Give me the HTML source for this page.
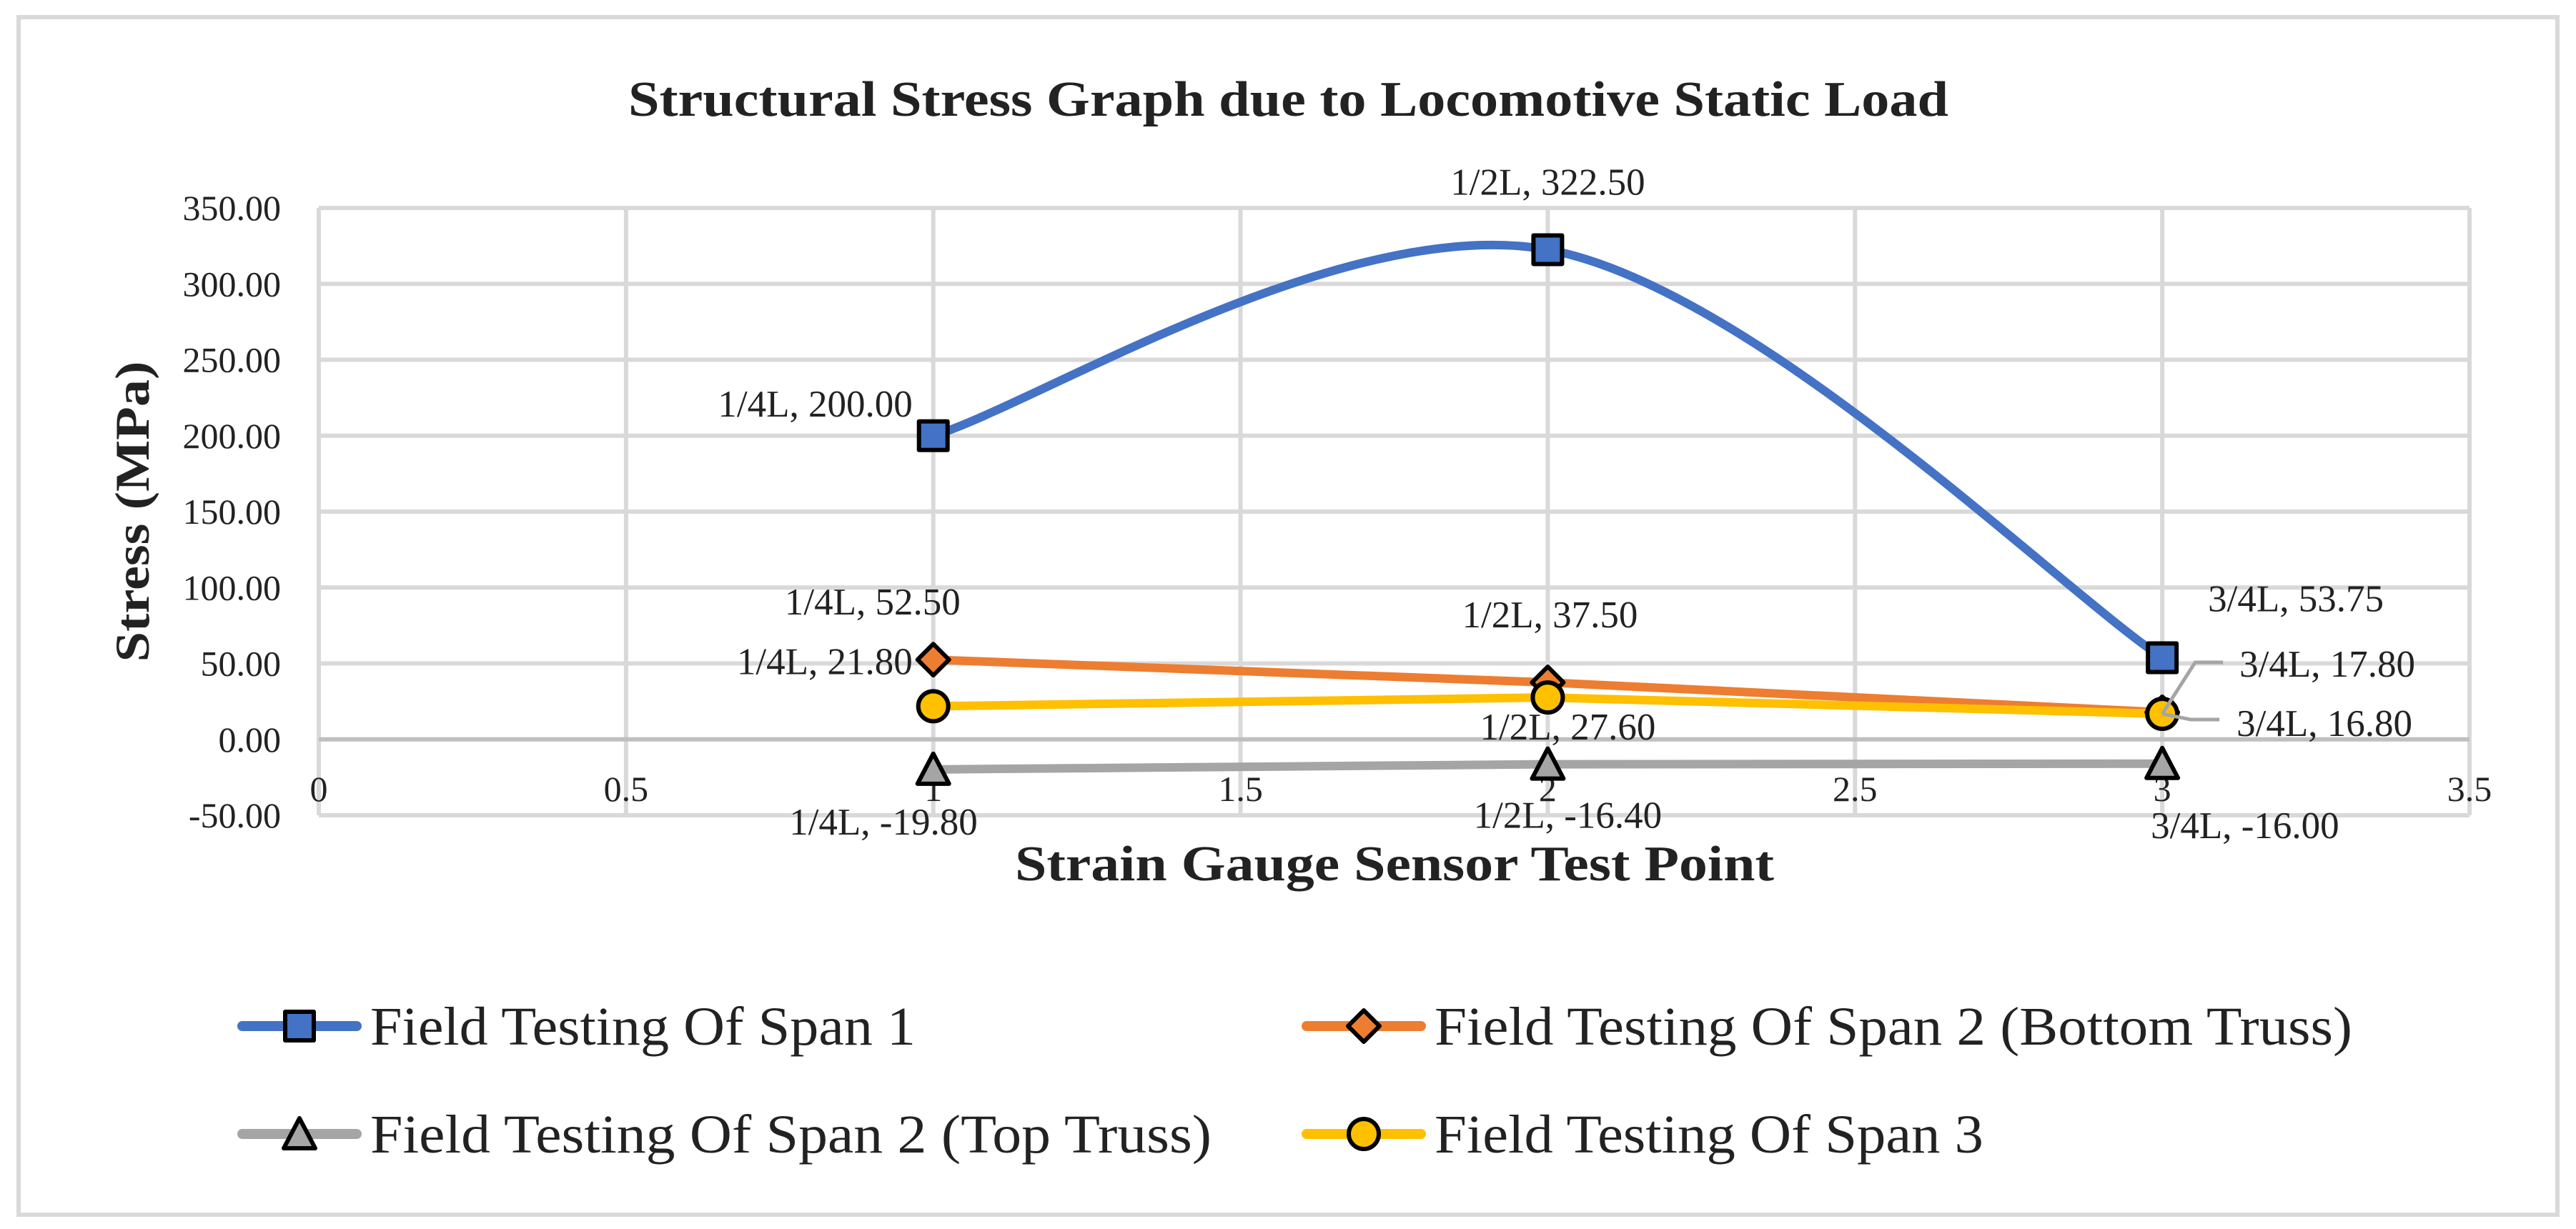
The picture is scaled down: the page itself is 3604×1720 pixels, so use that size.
<!DOCTYPE html>
<html><head><meta charset="utf-8"><style>
html,body{margin:0;padding:0;background:#fff;}
svg{display:block;font-family:"Liberation Serif",serif;}
</style></head><body>
<svg id="chart" width="3604" height="1720" viewBox="0 0 3604 1720" xmlns="http://www.w3.org/2000/svg">
<rect x="26" y="24" width="3552" height="1676" fill="#fff" stroke="#d9d9d9" stroke-width="6"/>
<text x="879" y="162" font-size="70" font-weight="bold" fill="#222" textLength="1847" lengthAdjust="spacingAndGlyphs">Structural Stress Graph due to Locomotive Static Load</text>
<g id="grid"></g>
<g id="yticks"></g>
<g id="xticks"></g>
<text transform="translate(208,716) rotate(-90)" text-anchor="middle" font-size="68" font-weight="bold" fill="#222" textLength="421" lengthAdjust="spacingAndGlyphs">Stress (MPa)</text>
<text x="1420" y="1232" font-size="70" font-weight="bold" fill="#222" textLength="1062" lengthAdjust="spacingAndGlyphs">Strain Gauge Sensor Test Point</text>
<g id="series"></g>
<g id="labels"></g>
<g id="legend"></g>
</svg>
<script>
const xValues = [1, 2, 3];
const span1 = [200.00, 322.50, 53.75];
const span2Bottom = [52.50, 37.50, 17.80];
const span2Top = [-19.80, -16.40, -16.00];
const span3 = [21.80, 27.60, 16.80];
const pointNames = ["1/4L", "1/2L", "3/4L"];
const yTicks = [-50, 0, 50, 100, 150, 200, 250, 300, 350];
const yTickLabels = ["-50.00","0.00","50.00","100.00","150.00","200.00","250.00","300.00","350.00"];
const xTicks = [0, 0.5, 1, 1.5, 2, 2.5, 3, 3.5];
const xTickLabels = ["0","0.5","1","1.5","2","2.5","3","3.5"];
const seriesNames = ["Field Testing Of Span 1","Field Testing Of Span 2 (Bottom Truss)","Field Testing Of Span 2 (Top Truss)","Field Testing Of Span 3"];

const NS = "http://www.w3.org/2000/svg";
const X0 = 446, X1 = 3455, Y0 = 1141, Y1 = 291;
const xs = v => X0 + (v - 0) / 3.5 * (X1 - X0);
const ys = v => Y0 - (v + 50) / 400 * (Y0 - Y1);
function mk(tag, attrs, parent, txt) {
  const e = document.createElementNS(NS, tag);
  for (const k in attrs) e.setAttribute(k, attrs[k]);
  if (txt !== undefined) e.textContent = txt;
  parent.appendChild(e);
  return e;
}
const grid = document.getElementById('grid');
xTicks.forEach((t) => {
  const l = mk('line', {x1: xs(t), x2: xs(t), y1: Y1, y2: Y0, stroke: '#d9d9d9', 'stroke-width': 6}, grid);
  
  
});
yTicks.forEach((t) => {
  const l = mk('line', {x1: X0, x2: X1, y1: ys(t), y2: ys(t), stroke: t === 0 ? '#bfbfbf' : '#d9d9d9', 'stroke-width': 6}, grid);
  
  
});
const yt = document.getElementById('yticks');
yTicks.forEach((t, i) => {
  const e = mk('text', {x: 393, y: ys(t) + 17, 'text-anchor': 'end', 'font-size': 50, fill: '#222'}, yt, yTickLabels[i]);
  
  
});
const xt = document.getElementById('xticks');
xTicks.forEach((t, i) => {
  const e = mk('text', {x: xs(t), y: 1121, 'text-anchor': 'middle', 'font-size': 50, fill: '#222'}, xt, xTickLabels[i]);
  
  
});

const colors = ['#4472C4', '#ED7D31', '#A5A5A5', '#FFC000'];
const shapes = ['square', 'diamond', 'triangle', 'circle'];
const allSeries = [span1, span2Bottom, span2Top, span3];

function marker(shape, cx, cy, color, parent) {
  let e;
  const s = 20;
  if (shape === 'square') e = mk('rect', {x: cx - s, y: cy - s, width: 2 * s, height: 2 * s}, parent);
  else if (shape === 'diamond') e = mk('polygon', {points: `${cx},${cy - 22} ${cx + 22},${cy} ${cx},${cy + 22} ${cx - 22},${cy}`}, parent);
  else if (shape === 'triangle') e = mk('polygon', {points: `${cx},${cy - 22} ${cx + 22},${cy + 20} ${cx - 22},${cy + 20}`}, parent);
  else e = mk('circle', {cx: cx, cy: cy, r: 21}, parent);
  e.setAttribute('fill', color);
  e.setAttribute('stroke', '#000');
  e.setAttribute('stroke-width', 6);
  e.setAttribute('stroke-linejoin', 'round');
  return e;
}
function smoothPath(pts) {
  let d = `M${pts[0][0]},${pts[0][1]}`;
  for (let i = 0; i < pts.length - 1; i++) {
    const p0 = pts[i - 1] || pts[i], p1 = pts[i], p2 = pts[i + 1], p3 = pts[i + 2] || p2;
    const c1 = [p1[0] + (p2[0] - p0[0]) / 6, p1[1] + (p2[1] - p0[1]) / 6];
    const c2 = [p2[0] - (p3[0] - p1[0]) / 6, p2[1] - (p3[1] - p1[1]) / 6];
    d += ` C${c1[0]},${c1[1]} ${c2[0]},${c2[1]} ${p2[0]},${p2[1]}`;
  }
  return d;
}
const sg = document.getElementById('series');
const drawOrder = [2, 1, 3, 0];
drawOrder.forEach(si => {
  const vals = allSeries[si];
  const pts = xValues.map((x, i) => [xs(x), ys(vals[i])]);
  const d = si === 0 ? smoothPath(pts) : 'M' + pts.map(p => p.join(',')).join(' L');
  const p = mk('path', {d: d, fill: 'none', stroke: colors[si], 'stroke-width': 12, 'stroke-linecap': 'round', 'stroke-linejoin': 'round'}, sg);
  
  
});
drawOrder.forEach(si => {
  const vals = allSeries[si];
  xValues.forEach((x, i) => {
    const m = marker(shapes[si], xs(x), ys(vals[i]), colors[si], sg);
    
    
  });
});

// data label offsets relative to their point (layout only)
const lg = document.getElementById('labels');
const labelOffsets = [
  [[-29, -27, 'end'], [0, -77, 'middle'], [64, -65, 'start']],
  [[38, -63, 'end'], [3, -77, 'middle'], [108, -50, 'start']],
  [[62, 91, 'end'], [28, 89, 'middle'], [-16, 104, 'start']],
  [[-29, -45, 'end'], [28, 59, 'middle'], [104, 31, 'start']]
];
allSeries.forEach((vals, si) => {
  xValues.forEach((x, i) => {
    const px = xs(x), py = ys(vals[i]);
    const o = labelOffsets[si][i];
    const t = mk('text', {x: px + o[0], y: py + o[1], 'text-anchor': o[2], 'font-size': 53, fill: '#222'}, lg, pointNames[i] + ', ' + vals[i].toFixed(2));
    
    
  });
});
(function () {
  const px = xs(xValues[2]);
  const p3 = ys(span3[2]);
  const l1 = mk('polyline', {points: `${px},${p3} ${px + 46},${p3 - 72} ${px + 85},${p3 - 72}`, fill: 'none', stroke: '#a5a5a5', 'stroke-width': 5}, lg);
  
  
  const l2 = mk('polyline', {points: `${px},${p3} ${px + 40},${p3 + 8} ${px + 80},${p3 + 8}`, fill: 'none', stroke: '#a5a5a5', 'stroke-width': 5}, lg);
  
  
})();

// legend
const leg = document.getElementById('legend');
const legPos = [[333, 1436, 763], [1822, 1436, 1284], [333, 1587, 1177], [1822, 1587, 768]];
seriesNames.forEach((name, si) => {
  const [lx, ly, tl] = legPos[si];
  const g = mk('g', {}, leg);
  
  
  mk('line', {x1: lx + 6, x2: lx + 166, y1: ly, y2: ly, stroke: colors[si], 'stroke-width': 14, 'stroke-linecap': 'round'}, g);
  marker(shapes[si], lx + 86, ly, colors[si], g);
  const t = mk('text', {x: lx + 185, y: ly + 26, 'font-size': 76, fill: '#222', textLength: tl, lengthAdjust: 'spacingAndGlyphs'}, g, name);
  
  
});
</script>
</body></html>
